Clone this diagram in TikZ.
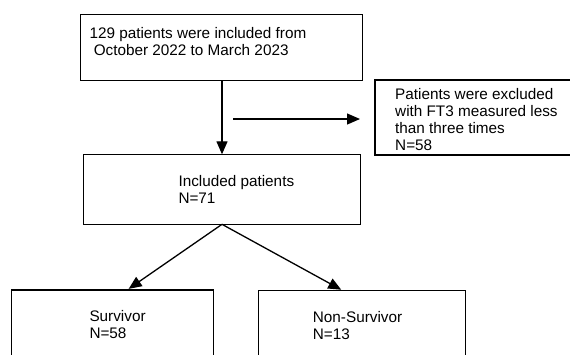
\documentclass[tikz,border=0pt]{standalone}
\usepackage{fontspec}
\setmainfont{Liberation Sans}
\usetikzlibrary{arrows.meta}

\begin{document}
\begin{tikzpicture}[x=1bp, y=-1bp,
  box/.style={draw, line width=1.3bp, inner sep=0pt, outer sep=0pt},
  txt/.style={anchor=base west, align=left, inner sep=0pt,
    font=\fontsize{15.3bp}{17bp}\selectfont},
  arr/.style={-{Triangle[length=13bp,width=11bp]}, line width=1.3bp}]
  % Page
  \clip (0,0) rectangle (570,354);

  % Boxes
  \node[box, minimum width=282bp, minimum height=66bp] (top) at (221.2,47.3) {};
  \node[box, minimum width=210bp, minimum height=75bp] (excl) at (480,117.5) {};
  \node[box, minimum width=277.4bp, minimum height=70bp] (incl) at (222,189.3) {};
  \node[box, minimum width=201.6bp, minimum height=80bp] (surv) at (112.5,330) {};
  \node[box, minimum width=207.4bp, minimum height=80bp] (nonsurv) at (362,330.7) {};

  % Texts (anchored at the baseline of their last line)
  \node[txt] (toptext) at (89.3,55.7)
    {129 patients were included from\\\hspace*{.28em}October 2022 to March 2023};
  \node[txt] (excltext) at (395,150)
    {Patients were excluded\\with FT3 measured less\\than three times\\N=58};
  \node[txt] (incltext) at (178.3,203.3) {Included patients\\N=71};
  \node[txt] (survtext) at (89.3,338.7) {Survivor\\N=58};
  \node[txt] (nonsurvtext) at (312.7,339) {Non-Survivor\\N=13};

  % Arrows
  \draw[arr] (incl.north |- top.south) -- (incl.north);
  \coordinate (cut) at (233.3,119);
  \draw[arr, shorten >=15bp] (cut) -- (cut -| excl.west);
  \draw[arr, shorten >=2bp] (incl.south) -- ([xshift=14.5bp]surv.north);
  \draw[arr, shorten >=2bp] (incl.south) -- ([xshift=-19bp]nonsurv.north);
\end{tikzpicture}
\end{document}
